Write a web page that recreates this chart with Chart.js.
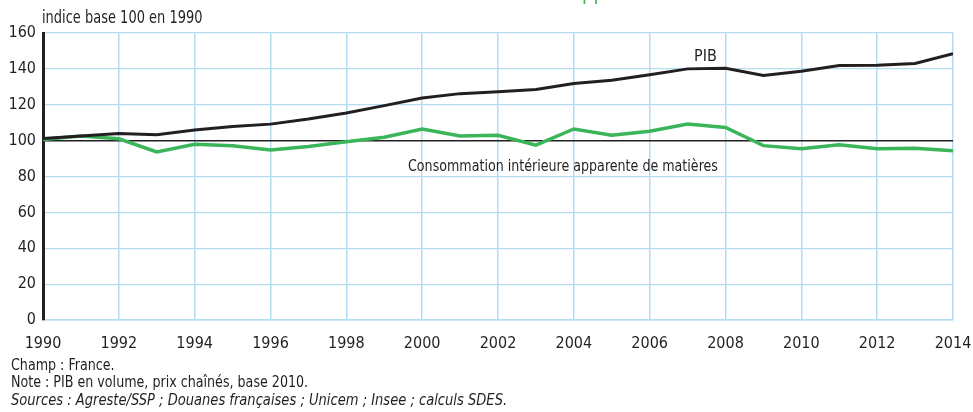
<!DOCTYPE html>
<html lang="fr">
<head>
<meta charset="utf-8">
<script src="https://cdn.jsdelivr.net/npm/chart.js@4/dist/chart.umd.min.js"></script>
<style>
  html, body { margin: 0; padding: 0; background: #fff; }
  body { width: 973px; height: 412px; position: relative; overflow: hidden;
         font-family: 'DejaVu Sans Condensed', 'Liberation Sans', sans-serif; color: #231f20; }
  #wrap { position: absolute; left: 0; top: 0; width: 973px; height: 360px; }
  .lbl { position: absolute; white-space: nowrap; line-height: 1; transform-origin: 0 0; }
  #titre { left: 582px; top: -17px; color: #3bb55a; font-size: 20px; }
  #unite { left: 42px; top: 9px; font-size: 17px; transform: scaleX(0.85); }
  #pib { left: 694px; top: 48px; font-size: 16px; }
  #cons { left: 408px; top: 158px; font-size: 16px; transform: scaleX(0.88); }
  .note { position: absolute; left: 11px; font-size: 15px; line-height: 1; white-space: nowrap;
          transform: scaleX(0.94); transform-origin: 0 0; }
  .note.src { font-style: italic; transform: scaleX(0.97); }
</style>
</head>
<body>
<div id="wrap"><canvas id="c"></canvas></div>
<div class="lbl" id="titre">pp</div>
<div class="lbl" id="unite">indice base 100 en 1990</div>
<div class="lbl" id="pib">PIB</div>
<div class="lbl" id="cons">Consommation intérieure apparente de matières</div>
<div class="note" style="top:358px">Champ : France.</div>
<div class="note" style="top:375px">Note : PIB en volume, prix chaînés, base 2010.</div>
<div class="note src" style="top:393px">Sources : Agreste/SSP ; Douanes françaises ; Unicem ; Insee ; calculs SDES.</div>
<script>
// ── DONNÉES ──
const annees = [1990, 1991, 1992, 1993, 1994, 1995, 1996, 1997, 1998, 1999, 2000, 2001, 2002,
                2003, 2004, 2005, 2006, 2007, 2008, 2009, 2010, 2011, 2012, 2013, 2014];
const pib = [101.2, 102.6, 104, 103.3, 105.9, 107.9, 109.2, 112, 115.4, 119.5, 123.8, 126.2, 127.3,
             128.5, 131.8, 133.7, 136.7, 140, 140.4, 136.3, 138.7, 141.9, 142, 143, 148.5];
const consommation = [100.6, 102.6, 101, 93.7, 98, 97.2, 94.8, 96.7, 99.4, 101.9, 106.5, 102.6, 103,
                      97.5, 106.5, 103, 105.2, 109.3, 107.3, 97.2, 95.5, 97.7, 95.5, 95.7, 94.4];
const ticksY = [0, 20, 40, 60, 80, 100, 120, 140, 160];

const NOIR = '#231f20';
const VERT = '#3bb55a';
const GRILLE = '#b4dcf2';
const police = "'DejaVu Sans Condensed', 'Liberation Sans', sans-serif";

const enPoints = vals => annees.map((a, i) => ({ x: a, y: vals[i] }));

new Chart(document.getElementById('c'), {
  type: 'line',
  data: {
    datasets: [
      { data: enPoints(pib), borderColor: NOIR, borderWidth: 3, pointRadius: 0, tension: 0 },
      { data: enPoints(consommation), borderColor: VERT, borderWidth: 3.5, pointRadius: 0, tension: 0 }
    ]
  },
  options: {
    responsive: true,
    maintainAspectRatio: false,
    animation: false,
    layout: { padding: { left: 0, right: 20, top: 33, bottom: 0 } },
    plugins: { legend: { display: false }, tooltip: { enabled: false } },
    scales: {
      x: {
        type: 'linear', min: 1990, max: 2014,
        afterBuildTicks: s => { s.ticks = annees.filter(a => a % 2 === 0).map(v => ({ value: v })); },
        afterFit: s => { s.height = 40; },
        // ticks invisibles : décalent les libellés sans élargir la marge droite
        grid: { color: GRILLE, lineWidth: 1.5, drawTicks: true, tickLength: 14, tickColor: 'rgba(0,0,0,0)' },
        border: { color: GRILLE, width: 1.5 },
        ticks: { color: NOIR, font: { family: police, size: 16 }, padding: 0, maxRotation: 0,
                 callback: v => String(v) }
      },
      y: {
        min: 0, max: 160,
        afterBuildTicks: s => { s.ticks = ticksY.map(v => ({ value: v })); },
        afterFit: s => { s.width = 43; },
        grid: { color: c => c.tick && c.tick.value === 100 ? NOIR : GRILLE,
                lineWidth: c => c.tick && c.tick.value === 100 ? 1.5 : 1.2, drawTicks: false },
        border: { color: NOIR, width: 3 },
        ticks: { color: NOIR, font: { family: police, size: 16 }, padding: 7 }
      }
    }
  }
});
</script>
</body>
</html>
